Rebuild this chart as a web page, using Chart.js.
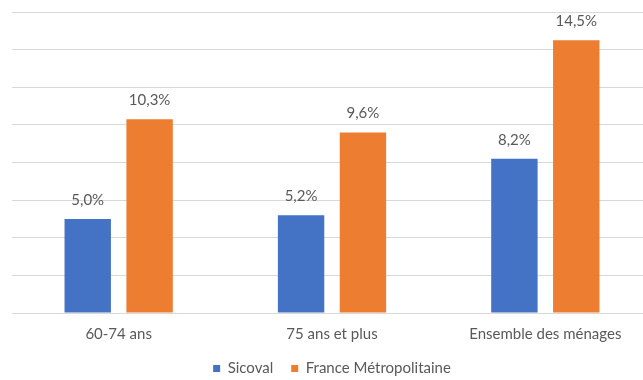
<!DOCTYPE html>
<html>
<head>
<meta charset="utf-8">
<script src="https://cdn.jsdelivr.net/npm/chart.js@4.4.1/dist/chart.umd.min.js"></script>
<style>
    html, body { margin: 0; padding: 0; background: #fff; overflow: hidden; }
    /* the source picture is cropped on the right, so the plot runs past the edge */
    #wrap { width: 652px; height: 380px; position: relative; }
</style>
</head>
<body>
<div id="wrap"><canvas id="barChart"></canvas></div>
<script>
/* ===== DATA ===== */
const categories = ["60-74 ans", "75 ans et plus", "Ensemble des ménages"];
const sicoval = [5.0, 5.2, 8.2];
const franceMetro = [10.3, 9.6, 14.5];
const seriesNames = ["Sicoval", "France Métropolitaine"];

const textColor = "#595959";
const fontFamily = "Lato, 'Open Sans', sans-serif";

/* ===== VALUE LABELS ABOVE BARS ===== */
const valueLabels = {
    id: "valueLabels",
    afterDatasetsDraw(chart) {
        const ctx = chart.ctx;
        ctx.save();
        ctx.fillStyle = textColor;
        ctx.font = "15px " + fontFamily;
        ctx.textAlign = "center";
        ctx.textBaseline = "middle";
        chart.data.datasets.forEach((ds, i) => {
            chart.getDatasetMeta(i).data.forEach((bar, j) => {
                const txt = ds.data[j].toFixed(1).replace(".", ",") + "%";
                ctx.fillText(txt, bar.x, bar.y - 19);
            });
        });
        ctx.restore();
    }
};

/* ===== BAR CHART ===== */
new Chart(document.getElementById("barChart"), {
    type: "bar",
    data: {
        labels: categories,
        datasets: [
            {
                label: seriesNames[0],
                data: sicoval,
                backgroundColor: "#4472C4"
            },
            {
                label: seriesNames[1],
                data: franceMetro,
                backgroundColor: "#ED7D31"
            }
        ]
    },
    options: {
        responsive: true,
        maintainAspectRatio: false,
        animation: false,
        categoryPercentage: 0.58,
        barPercentage: 0.75,
        layout: { padding: { left: 12, right: 0, top: 12, bottom: -6 } },
        scales: {
            x: {
                grid: { display: false, drawTicks: false },
                border: { display: false },
                ticks: {
                    color: textColor,
                    font: { family: fontFamily, size: 15 },
                    padding: 12
                },
                afterFit(axis) { axis.height -= 12; }
            },
            y: {
                min: 0,
                max: 16,
                ticks: { display: false, stepSize: 2 },
                grid: { color: "#D9D9D9", lineWidth: 1, drawTicks: false },
                border: { display: false }
            }
        },
        plugins: {
            tooltip: { enabled: false },
            legend: {
                position: "bottom",
                labels: {
                    color: textColor,
                    font: { family: fontFamily, size: 15 },
                    boxWidth: 7,
                    boxHeight: 7,
                    padding: 18
                }
            }
        }
    },
    plugins: [valueLabels]
});
</script>
</body>
</html>
